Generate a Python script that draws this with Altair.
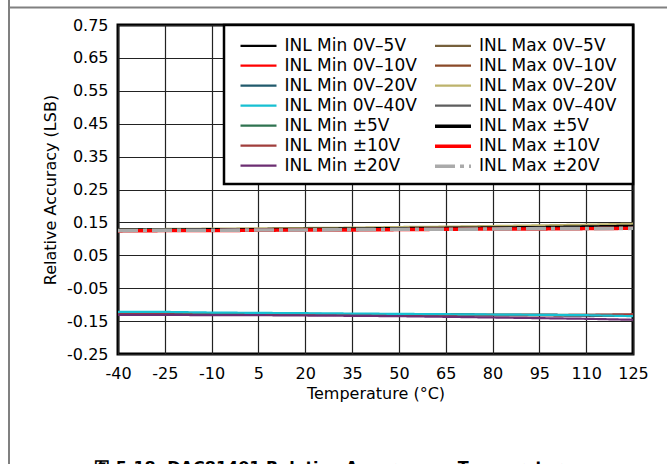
import altair as alt
import pandas as pd

temps = [-40, -25, -10, 5, 20, 35, 50, 65, 80, 95, 110, 125]

# series values (LSB)
min_0_5 = [-0.128, -0.128, -0.129, -0.129, -0.130, -0.130, -0.131, -0.131, -0.132, -0.132, -0.133, -0.134]
min_0_10 = [-0.127, -0.127, -0.128, -0.128, -0.129, -0.129, -0.130, -0.130, -0.131, -0.131, -0.132, -0.133]
min_0_20 = [-0.126, -0.126, -0.127, -0.128, -0.128, -0.129, -0.130, -0.130, -0.131, -0.131, -0.132, -0.132]
min_0_40 = [-0.122, -0.122, -0.124, -0.125, -0.126, -0.127, -0.128, -0.129, -0.130, -0.131, -0.132, -0.135]
min_pm5 = [-0.127, -0.127, -0.128, -0.128, -0.129, -0.129, -0.130, -0.130, -0.131, -0.131, -0.131, -0.131]
min_pm10 = [-0.129, -0.129, -0.130, -0.130, -0.131, -0.131, -0.132, -0.132, -0.132, -0.132, -0.131, -0.129]
min_pm20 = [-0.131, -0.131, -0.132, -0.132, -0.133, -0.134, -0.135, -0.137, -0.139, -0.141, -0.143, -0.146]

max_0_5 = [0.128, 0.128, 0.129, 0.129, 0.130, 0.131, 0.132, 0.133, 0.134, 0.135, 0.137, 0.138]
max_0_10 = [0.127, 0.127, 0.128, 0.128, 0.129, 0.130, 0.131, 0.132, 0.133, 0.134, 0.135, 0.136]
max_0_20 = [0.129, 0.130, 0.131, 0.132, 0.133, 0.134, 0.136, 0.137, 0.139, 0.141, 0.143, 0.146]
max_0_40 = [0.126, 0.126, 0.127, 0.128, 0.129, 0.130, 0.130, 0.131, 0.132, 0.133, 0.134, 0.135]
max_pm5 = [0.127, 0.127, 0.128, 0.128, 0.129, 0.130, 0.131, 0.132, 0.133, 0.134, 0.136, 0.138]
max_pm10 = [0.124, 0.125, 0.125, 0.126, 0.127, 0.127, 0.128, 0.129, 0.130, 0.130, 0.131, 0.132]
max_pm20 = [0.125, 0.126, 0.126, 0.127, 0.127, 0.128, 0.129, 0.129, 0.130, 0.131, 0.131, 0.132]

# drawing order (last on top)
draw_order = [
    ("INL Min 0V–5V", min_0_5), ("INL Min 0V–10V", min_0_10), ("INL Min 0V–20V", min_0_20),
    ("INL Min ±5V", min_pm5), ("INL Min ±10V", min_pm10), ("INL Min 0V–40V", min_0_40),
    ("INL Min ±20V", min_pm20),
    ("INL Max 0V–5V", max_0_5), ("INL Max 0V–10V", max_0_10), ("INL Max 0V–40V", max_0_40),
    ("INL Max 0V–20V", max_0_20), ("INL Max ±5V", max_pm5), ("INL Max ±10V", max_pm10),
    ("INL Max ±20V", max_pm20),
]

# legend order (fills the first column, then the second)
legend_order = [
    "INL Min 0V–5V", "INL Min 0V–10V", "INL Min 0V–20V", "INL Min 0V–40V",
    "INL Min ±5V", "INL Min ±10V", "INL Min ±20V",
    "INL Max 0V–5V", "INL Max 0V–10V", "INL Max 0V–20V", "INL Max 0V–40V",
    "INL Max ±5V", "INL Max ±10V", "INL Max ±20V",
]
legend_colors = [
    "#000000", "#FF0000", "#215A6C", "#17C0D2", "#2F7350", "#A03E3C", "#6C2E72",
    "#76603C", "#8A4A28", "#BDB36C", "#5E5E5E", "#000000", "#FF0000", "#AAAAAA",
]
legend_widths = [2.2, 2.2, 2.2, 2.2, 2.2, 2.2, 2.2, 2.2, 2.2, 2.2, 2.2, 3.4, 3.4, 3.6]
legend_dashes = [[1, 0]] * 13 + [[20, 5, 4, 5]]

x_ticks = [-40, -25, -10, 5, 20, 35, 50, 65, 80, 95, 110, 125]
y_ticks = [-0.25, -0.15, -0.05, 0.05, 0.15, 0.25, 0.35, 0.45, 0.55, 0.65, 0.75]

rows = []
for name, vals in draw_order:
    for t, v in zip(temps, vals):
        rows.append({"series": name, "temp": t, "inl": v})
df = pd.DataFrame(rows)

FONT = "DejaVu Sans"

leg = dict(
    title=None, orient="none", legendX=128.5, legendY=9.2, columns=2,
    symbolType="M-1.8,0H1.8", symbolSize=400, labelFont=FONT, labelFontSize=17,
    labelColor="#000000", labelOffset=14, rowPadding=0, columnPadding=9.5,
    padding=0, symbolOpacity=1,
)

lines = alt.Chart(df).mark_line(strokeCap="butt", strokeJoin="round").encode(
    x=alt.X("temp:Q", scale=alt.Scale(domain=[-40, 125], nice=False, zero=False),
            axis=alt.Axis(values=x_ticks, labelExpr="toString(datum.value)", labelOverlap=False,
                          labelFlush=False,
                          title="Temperature (°C)", labelPadding=11, titlePadding=4)),
    y=alt.Y("inl:Q", scale=alt.Scale(domain=[-0.25, 0.75], nice=False, zero=False),
            axis=alt.Axis(values=y_ticks, labelExpr="replace(format(datum.value, '.2f'), '−', '-')",
                          labelOverlap=False,
                          title="Relative Accuracy (LSB)", labelPadding=10, titlePadding=8)),
    color=alt.Color("series:N", scale=alt.Scale(domain=legend_order, range=legend_colors),
                    legend=alt.Legend(**leg)),
    strokeDash=alt.StrokeDash("series:N", scale=alt.Scale(domain=legend_order, range=legend_dashes),
                              legend=alt.Legend(**leg)),
    strokeWidth=alt.StrokeWidth("series:N", scale=alt.Scale(type="ordinal", domain=legend_order, range=legend_widths),
                                legend=alt.Legend(**leg)),
)

one = pd.DataFrame({"k": [0]})

legend_box = alt.Chart(one).mark_rect(fill="white", stroke="black", strokeWidth=2.5).encode(
    x=alt.value(106), x2=alt.value(515), y=alt.value(0), y2=alt.value(159)
)

frame_v = alt.Chart(one).mark_rule(color="#808080", strokeWidth=2).encode(
    x=alt.value(-109), y=alt.value(-25), y2=alt.value(439)
)
frame_h = alt.Chart(one).mark_rule(color="#808080", strokeWidth=2).encode(
    x=alt.value(-109), x2=alt.value(549), y=alt.value(-17.5)
)

caption = alt.Chart(one).mark_text(
    text="图 5-18. DAC81401 Relative Accuracy vs Temperature",
    font=FONT, fontWeight="bold", fontSize=16, align="center", baseline="alphabetic", color="black"
).encode(x=alt.value(215.5), y=alt.value(448))

chart = alt.layer(lines, legend_box, frame_v, frame_h, caption).properties(
    width=515, height=329,
    autosize=alt.AutoSizeParams(type="none"),
    padding={"left": 118, "top": 25, "right": 34, "bottom": 110},
    background="white",
).configure_view(
    stroke="black", strokeWidth=3
).configure_axis(
    labelFont=FONT, labelFontSize=16, labelColor="black",
    titleFont=FONT, titleFontSize=16, titleFontWeight="normal", titleColor="black",
    domain=False, ticks=False, gridColor="#222222", gridWidth=1.2, gridOpacity=1,
)

chart.save("out.html", embed_options={"renderer": "svg", "actions": False})
